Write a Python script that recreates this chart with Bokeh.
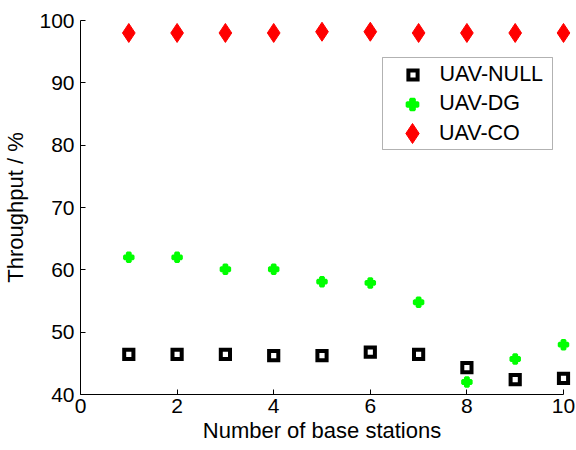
from bokeh.plotting import figure
from bokeh.models import Range1d, Legend, LegendItem, BoxAnnotation, FixedTicker
from bokeh.embed import file_html
from bokeh.resources import INLINE

# ---- data ----
stations = [1, 2, 3, 4, 5, 6, 7, 8, 9, 10]
uav_null = [46.45, 46.45, 46.45, 46.25, 46.25, 46.8, 46.45, 44.3, 42.4, 42.6]
uav_dg = [62.0, 62.0, 60.1, 60.1, 58.1, 57.9, 54.8, 42.0, 45.7, 48.0]
uav_co = [98.0, 98.0, 98.0, 98.0, 98.2, 98.2, 98.0, 98.0, 98.0, 98.0]
x_ticks = [0, 2, 4, 6, 8, 10]
y_ticks = [40, 50, 60, 70, 80, 90, 100]
labels = ["UAV-NULL", "UAV-DG", "UAV-CO"]

FONT = "Liberation Sans"

p = figure(width=576, height=450, output_backend="svg", toolbar_location=None,
           x_range=Range1d(0, 10), y_range=Range1d(40, 100),
           min_border_left=80, min_border_right=13, min_border_top=20, min_border_bottom=56)
p.outline_line_color = None
p.xgrid.visible = False
p.ygrid.visible = False
p.background_fill_color = "white"
p.border_fill_color = "white"

for ax in (p.xaxis[0], p.yaxis[0]):
    ax.axis_line_color = "black"
    ax.axis_line_width = 1
    ax.major_tick_line_color = "black"
    ax.major_tick_in = 5
    ax.major_tick_out = 0
    ax.minor_tick_line_color = None
    ax.major_label_text_font = FONT
    ax.major_label_text_font_size = "21px"
    ax.major_label_text_color = "black"
    ax.axis_label_text_font = FONT
    ax.axis_label_text_font_size = "22px"
    ax.axis_label_text_font_style = "normal"
    ax.axis_label_text_color = "black"

p.xaxis[0].ticker = FixedTicker(ticks=x_ticks)
p.yaxis[0].ticker = FixedTicker(ticks=y_ticks)
p.xaxis[0].major_label_standoff = 4
p.xaxis[0].axis_label_standoff = 2
p.yaxis[0].major_label_standoff = 6
p.yaxis[0].axis_label_standoff = 8
p.xaxis[0].axis_label = "Number of base stations"
p.yaxis[0].axis_label = "Throughput / %"

r_null = p.scatter(stations, uav_null, marker="square", size=9.2, fill_color=None,
                   line_color="black", line_width=4, line_join="miter", level="overlay")
r_dg = p.scatter(stations, uav_dg, marker="plus", size=9, fill_color="#00ff00",
                 line_color="#00ff00", line_width=2.5, level="overlay")
r_co = p.scatter(stations, uav_co, marker="diamond", size=19, fill_color="#ff0000",
                 line_color="#ff0000", line_width=1, level="overlay")

# legend border box (frame-relative screen units)
box = BoxAnnotation(left=302, right=472, bottom=245, top=337,
                    left_units="screen", right_units="screen",
                    bottom_units="screen", top_units="screen",
                    fill_color="white", fill_alpha=1.0,
                    line_color="black", line_width=1, level="overlay")
p.add_layout(box)

# one legend per entry so each glyph keeps its own size
glyph_cx = 332          # glyph centre, px from frame left
text_x = 359            # label start, px from frame left
frame_h = 374
row_cy = [75 - 20, 104 - 20, 133 - 20]  # row centres, px from frame top
boxes = [23, 27.5, 50]
for lab, rend, cy, g in zip(labels, [r_null, r_dg, r_co], row_cy, boxes):
    lg = Legend(items=[LegendItem(label=lab, renderers=[rend])],
                location=(glyph_cx - g / 2, frame_h - cy - g / 2),
                glyph_width=int(round(g)), glyph_height=int(round(g)),
                label_standoff=int(round(text_x - glyph_cx - g / 2)),
                padding=0, margin=0, spacing=0,
                border_line_alpha=0, background_fill_alpha=0,
                label_text_font=FONT, label_text_font_size="21.5px",
                label_text_color="black")
    p.add_layout(lg)

open("out.html", "w").write(file_html(p, INLINE))
